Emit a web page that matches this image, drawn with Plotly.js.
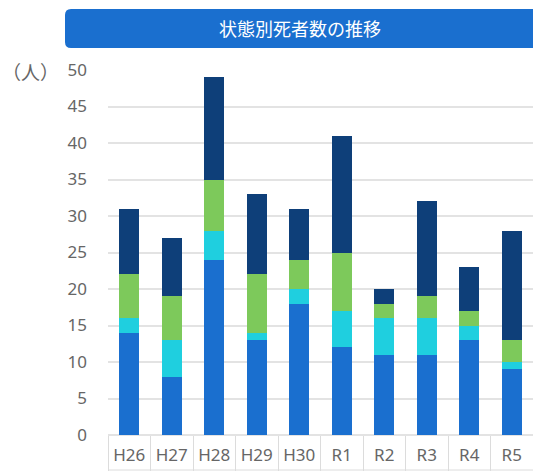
<!DOCTYPE html>
<html>
<head>
<meta charset="utf-8">
<script src="https://cdn.plot.ly/plotly-3.0.1.min.js"></script>
<style>html,body{margin:0;padding:0;background:#fff;}#chart{width:533px;height:472px;}</style>
</head>
<body>
<div id="chart"></div>
<script>
const categories = ["H26","H27","H28","H29","H30","R1","R2","R3","R4","R5"];
const seriesA = [14, 8, 24, 13, 18, 12, 11, 11, 13, 9];   // blue
const seriesB = [2, 5, 4, 1, 2, 5, 5, 5, 2, 1];           // cyan
const seriesC = [6, 6, 7, 8, 4, 8, 2, 3, 2, 3];           // green
const seriesD = [9, 8, 14, 11, 7, 16, 2, 13, 6, 15];      // navy
const titleText = "状態別死者数の推移";
const unitText = "（人）";

const colors = ["#1a6fcf", "#1fcfdf", "#7dc95b", "#0e3f79"];
const series = [seriesA, seriesB, seriesC, seriesD];
const traces = series.map((s, i) => ({
  type: "bar", x: categories, y: s, marker: {color: colors[i]},
  hoverinfo: "y", showlegend: false
}));

// paper coordinate helpers (plot area: x 108..533 px, y 70..435 px)
const px = v => (v - 108) / 425;
const py = v => (435 - v) / 365;
const r = 6;
const x0 = 65, x1 = 545, y0 = 9, y1 = 48;
const path = `M ${px(x0 + r)} ${py(y0)} L ${px(x1)} ${py(y0)} L ${px(x1)} ${py(y1)} L ${px(x0 + r)} ${py(y1)} Q ${px(x0)} ${py(y1)} ${px(x0)} ${py(y1 - r)} L ${px(x0)} ${py(y0 + r)} Q ${px(x0)} ${py(y0)} ${px(x0 + r)} ${py(y0)} Z`;

const layout = {
  width: 533, height: 472,
  margin: {l: 108, r: 0, t: 70, b: 37},
  paper_bgcolor: "#fff", plot_bgcolor: "#fff",
  barmode: "stack", bargap: 0.53,
  font: {family: "Noto Sans CJK JP, Noto Sans, sans-serif", color: "#666"},
  xaxis: {
    type: "category", tickson: "boundaries", ticks: "outside", ticklen: 35,
    tickcolor: "#dcdcdc", tickwidth: 1, showgrid: false, showline: false,
    tickfont: {size: 17, color: "#666", family: "Noto Sans, sans-serif"},
    ticklabelstandoff: 8, fixedrange: true
  },
  yaxis: {
    range: [0, 50], dtick: 5, showgrid: true, gridcolor: "#e3e3e3", gridwidth: 2,
    zeroline: true, zerolinecolor: "#e3e3e3", zerolinewidth: 2,
    tickfont: {size: 17, color: "#666", family: "Noto Sans, sans-serif"},
    ticklabelstandoff: 20, fixedrange: true
  },
  shapes: [
    {type: "path", xref: "paper", yref: "paper", path: path, fillcolor: "#1a6fcf", line: {width: 0}, layer: "above"},
    {type: "line", xref: "paper", yref: "paper", x0: 0, x1: 1, y0: py(470), y1: py(470), line: {color: "#dcdcdc", width: 1}}
  ],
  annotations: [
    {xref: "paper", yref: "paper", x: px(300), y: py(28), text: titleText, showarrow: false,
     font: {size: 18, color: "#fff", family: "Noto Sans CJK JP, sans-serif"}, xanchor: "center", yanchor: "middle"},
    {xref: "paper", yref: "paper", x: px(30), y: py(72), text: unitText, showarrow: false,
     font: {size: 19, color: "#666", family: "Noto Sans CJK JP, sans-serif"}, xanchor: "center", yanchor: "middle"}
  ]
};

Plotly.newPlot("chart", traces, layout, {displayModeBar: false, staticPlot: true});
</script>
</body>
</html>
